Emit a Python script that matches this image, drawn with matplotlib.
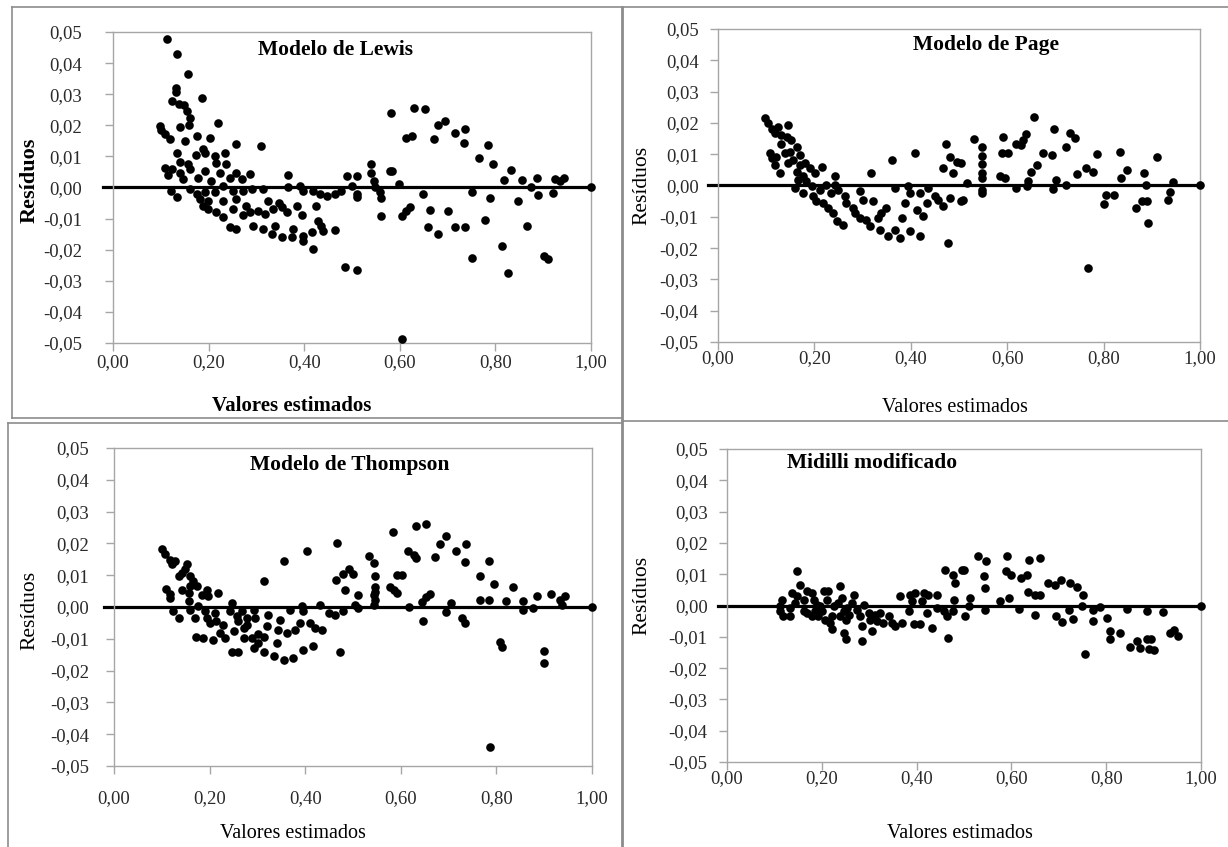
import matplotlib.pyplot as plt
import numpy as np
from matplotlib.lines import Line2D

plt.rcParams['font.family'] = ['Liberation Serif', 'DejaVu Serif']

# (valor estimado, resíduo)
lewis = np.array([
    (0.112, 0.0476), (0.133, 0.043), (0.157, 0.0366), (0.131, 0.032), (0.131, 0.0307), (0.186, 0.0287),
    (0.124, 0.0278), (0.138, 0.027), (0.148, 0.0264), (0.154, 0.0246), (0.161, 0.0222), (0.220, 0.0209),
    (0.159, 0.020), (0.098, 0.0198), (0.101, 0.0185), (0.108, 0.0171), (0.119, 0.0155), (0.141, 0.0196),
    (0.150, 0.015), (0.175, 0.0166), (0.203, 0.016), (0.258, 0.0139), (0.309, 0.0134), (0.189, 0.0123),
    (0.192, 0.011), (0.133, 0.0112), (0.173, 0.0104), (0.213, 0.0102), (0.234, 0.011), (0.141, 0.0082),
    (0.157, 0.0075), (0.108, 0.0064), (0.124, 0.0059), (0.140, 0.0048), (0.161, 0.0059), (0.192, 0.0053),
    (0.216, 0.008), (0.237, 0.0075), (0.115, 0.004), (0.147, 0.0027), (0.178, 0.0032), (0.206, 0.0021),
    (0.223, 0.0048), (0.258, 0.0046), (0.286, 0.0043), (0.269, 0.0027), (0.244, 0.0032), (0.367, 0.004),
    (0.122, -0.001), (0.133, -0.0029), (0.161, -0.0005), (0.175, -0.0021), (0.192, -0.0014), (0.213, -0.0016),
    (0.230, 0.0005), (0.251, -0.001), (0.272, -0.001), (0.290, -0.0005), (0.314, -0.0005), (0.367, 0.0),
    (0.391, 0.0005), (0.398, -0.001), (0.419, -0.001), (0.433, -0.002), (0.447, -0.0027), (0.464, -0.002),
    (0.478, -0.001), (0.489, 0.0037), (0.182, -0.0037), (0.199, -0.0043), (0.230, -0.0043), (0.258, -0.0037),
    (0.189, -0.0059), (0.199, -0.007), (0.216, -0.008), (0.230, -0.0096), (0.251, -0.007), (0.279, -0.0059),
    (0.325, -0.0043), (0.348, -0.005), (0.272, -0.009), (0.286, -0.008), (0.304, -0.0075), (0.318, -0.0086),
    (0.335, -0.007), (0.353, -0.0064), (0.363, -0.008), (0.385, -0.0059), (0.395, -0.009), (0.244, -0.0128),
    (0.258, -0.0134), (0.293, -0.0123), (0.313, -0.0134), (0.332, -0.015), (0.339, -0.0123), (0.353, -0.016),
    (0.374, -0.016), (0.377, -0.0134), (0.398, -0.0155), (0.398, -0.0171), (0.416, -0.0144), (0.429, -0.0107),
    (0.436, -0.0123), (0.440, -0.0139), (0.464, -0.0136), (0.419, -0.0198), (0.425, -0.0059), (0.485, -0.0257),
    (0.510, 0.0037), (0.499, 0.0005), (0.510, -0.002), (0.510, -0.0032), (0.510, -0.0264), (0.539, 0.0075),
    (0.539, 0.0048), (0.545, 0.0021), (0.548, 0.0), (0.559, -0.0016), (0.560, -0.0035), (0.560, -0.0093),
    (0.580, 0.0053), (0.583, 0.0053), (0.581, 0.024), (0.598, 0.0011), (0.604, -0.0091), (0.614, -0.0075),
    (0.621, -0.0064), (0.604, -0.0487), (0.614, 0.016), (0.625, 0.0166), (0.630, 0.0257), (0.653, 0.0253),
    (0.648, -0.002), (0.663, -0.0072), (0.660, -0.0126), (0.680, -0.0148), (0.671, 0.0155), (0.679, 0.020),
    (0.694, 0.0214), (0.701, -0.0075), (0.716, 0.0176), (0.737, 0.0189), (0.735, 0.0144), (0.716, -0.0128),
    (0.736, -0.0128), (0.750, -0.0014), (0.751, -0.0228), (0.765, 0.0096), (0.784, 0.0137), (0.794, 0.0077),
    (0.789, -0.0034), (0.779, -0.0105), (0.813, -0.0189), (0.826, -0.0275), (0.817, 0.0024), (0.833, 0.0057),
    (0.847, -0.0043), (0.856, 0.0024), (0.866, -0.0123), (0.875, 0.0002), (0.887, 0.0029), (0.889, -0.0025),
    (0.902, -0.0219), (0.909, -0.023), (0.920, -0.0019), (0.925, 0.0027), (0.936, 0.0021), (0.943, 0.0029),
    (1.0, 0.0),
])

page = np.array([
    (0.097, 0.0217), (0.104, 0.020), (0.111, 0.0182), (0.125, 0.0187), (0.145, 0.0193), (0.118, 0.0168),
    (0.131, 0.0161), (0.143, 0.0156), (0.152, 0.0145), (0.131, 0.0132), (0.163, 0.0124), (0.107, 0.0103),
    (0.111, 0.0087), (0.121, 0.0092), (0.138, 0.0103), (0.149, 0.0108), (0.170, 0.0097), (0.118, 0.0066),
    (0.128, 0.0039), (0.145, 0.0071), (0.156, 0.0081), (0.170, 0.0066), (0.180, 0.0071), (0.190, 0.0055),
    (0.201, 0.0039), (0.215, 0.006), (0.163, 0.0044), (0.176, 0.0029), (0.166, 0.0018), (0.183, 0.0013),
    (0.159, -0.0008), (0.176, -0.0024), (0.194, -0.0003), (0.197, -0.0035), (0.211, -0.0014), (0.225, 0.0002),
    (0.242, 0.0029), (0.242, 0.0002), (0.204, -0.0051), (0.218, -0.0056), (0.228, -0.0072), (0.235, -0.0024),
    (0.249, -0.0014), (0.239, -0.0088), (0.246, -0.0114), (0.260, -0.0125), (0.263, -0.0035), (0.266, -0.0056),
    (0.280, -0.0072), (0.284, -0.0088), (0.294, -0.0019), (0.294, -0.0104), (0.301, -0.0046), (0.308, -0.0109),
    (0.315, -0.013), (0.318, 0.0039), (0.322, -0.0051), (0.332, -0.0104), (0.336, -0.0141), (0.339, -0.0088),
    (0.349, -0.0072), (0.353, -0.0162), (0.360, 0.0081), (0.367, -0.0008), (0.367, -0.0141), (0.377, -0.0167),
    (0.381, -0.0104), (0.388, -0.0056), (0.394, -0.0003), (0.398, -0.0024), (0.398, -0.0146), (0.408, 0.0103),
    (0.412, -0.0077), (0.419, -0.0162), (0.419, -0.0024), (0.426, -0.0098), (0.433, -0.0056), (0.436, -0.0008),
    (0.450, -0.0035), (0.457, -0.0046), (0.467, -0.0067), (0.467, 0.0055), (0.473, 0.0134), (0.478, -0.0183),
    (0.482, 0.009), (0.488, 0.0039), (0.481, -0.004), (0.495, 0.0076), (0.505, 0.0071), (0.516, 0.0007),
    (0.509, -0.0046), (0.505, -0.0051), (0.531, 0.0147), (0.547, 0.0124), (0.547, 0.0094), (0.547, 0.0069),
    (0.547, 0.0039), (0.547, 0.0023), (0.547, -0.0014), (0.547, -0.0024), (0.585, 0.0029), (0.595, 0.0023),
    (0.592, 0.0156), (0.589, 0.0103), (0.602, 0.0103), (0.618, -0.0008), (0.619, 0.0132), (0.629, 0.0129),
    (0.633, 0.0145), (0.640, 0.0164), (0.641, -0.0003), (0.643, 0.0013), (0.650, 0.0044), (0.661, 0.0066),
    (0.656, 0.0219), (0.675, 0.0105), (0.692, 0.0097), (0.694, -0.0012), (0.702, 0.0018), (0.697, 0.0179),
    (0.722, 0.0124), (0.730, 0.0168), (0.740, 0.0153), (0.723, 0.0), (0.745, 0.0037), (0.763, 0.0055),
    (0.778, 0.0044), (0.768, -0.0262), (0.787, 0.010), (0.801, -0.0058), (0.806, -0.003), (0.822, -0.003),
    (0.833, 0.0108), (0.836, 0.0023), (0.849, 0.0048), (0.867, -0.0072), (0.879, -0.0051), (0.891, -0.0051),
    (0.884, 0.0039), (0.889, 0.0), (0.893, -0.012), (0.910, 0.0092), (0.933, -0.0046), (0.938, -0.0022),
    (0.943, 0.001), (1.0, 0.0),
])

thompson = np.array([
    (0.100, 0.0181), (0.107, 0.0168), (0.117, 0.0149), (0.128, 0.0144), (0.121, 0.0134), (0.152, 0.0134),
    (0.149, 0.0118), (0.135, 0.0097), (0.142, 0.0107), (0.159, 0.0097), (0.166, 0.0081), (0.173, 0.0065),
    (0.109, 0.0057), (0.117, 0.0042), (0.117, 0.0028), (0.142, 0.0055), (0.156, 0.0044), (0.159, 0.0065),
    (0.184, 0.0039), (0.197, 0.0034), (0.218, 0.0044), (0.194, 0.0055), (0.124, -0.0014), (0.135, -0.0035),
    (0.156, 0.0018), (0.159, -0.0008), (0.176, 0.0002), (0.170, -0.0035), (0.190, -0.0014), (0.194, -0.0035),
    (0.211, -0.0019), (0.213, -0.0045), (0.201, -0.0051), (0.229, -0.0056), (0.246, 0.0013), (0.243, -0.0014),
    (0.257, -0.0029), (0.268, -0.0014), (0.260, -0.0045), (0.278, -0.0035), (0.292, -0.0008), (0.295, -0.0035),
    (0.222, -0.0082), (0.232, -0.0098), (0.250, -0.0077), (0.271, -0.0066), (0.278, -0.0056), (0.172, -0.0093),
    (0.187, -0.0098), (0.207, -0.0103), (0.246, -0.014), (0.260, -0.014), (0.271, -0.0098), (0.288, -0.0098),
    (0.292, -0.0129), (0.302, -0.0084), (0.302, -0.0114), (0.313, -0.014), (0.313, -0.0093), (0.320, -0.0061),
    (0.323, -0.0024), (0.334, -0.0154), (0.341, -0.0114), (0.344, -0.0072), (0.348, -0.004), (0.355, -0.0166),
    (0.362, -0.0082), (0.368, -0.0008), (0.375, -0.0161), (0.379, -0.0072), (0.355, 0.0144), (0.313, 0.0081),
    (0.393, 0.0002), (0.389, -0.005), (0.396, -0.0014), (0.396, -0.0135), (0.403, 0.0176), (0.410, -0.005),
    (0.417, -0.0124), (0.421, -0.0066), (0.431, 0.0007), (0.435, -0.0072), (0.449, -0.0019), (0.463, -0.0024),
    (0.466, 0.0202), (0.465, 0.0086), (0.473, -0.014), (0.480, 0.0105), (0.484, 0.0055), (0.480, -0.0014),
    (0.491, 0.0118), (0.501, 0.0104), (0.511, 0.0038), (0.504, 0.0006), (0.511, -0.0004), (0.533, 0.0159),
    (0.543, 0.0138), (0.546, 0.0096), (0.546, 0.0064), (0.546, 0.0048), (0.543, 0.0038), (0.546, 0.0022),
    (0.543, 0.0006), (0.578, 0.0064), (0.585, 0.0054), (0.593, 0.0043), (0.584, 0.0235), (0.592, 0.0101),
    (0.602, 0.0101), (0.618, -0.0001), (0.616, 0.0175), (0.627, 0.0164), (0.632, 0.0154), (0.631, 0.0254),
    (0.653, 0.0261), (0.644, 0.0017), (0.653, 0.0031), (0.661, 0.0041), (0.646, -0.0043), (0.671, 0.0156),
    (0.681, 0.0198), (0.695, 0.0224), (0.695, -0.0015), (0.705, 0.0014), (0.716, 0.0175), (0.737, 0.0198),
    (0.735, 0.0143), (0.728, -0.0036), (0.734, -0.0049), (0.766, 0.0096), (0.766, 0.0022), (0.785, 0.0022),
    (0.785, 0.0145), (0.794, 0.0073), (0.787, -0.0441), (0.808, -0.0109), (0.812, -0.0125), (0.820, 0.002),
    (0.835, 0.0064), (0.856, 0.002), (0.856, -0.0009), (0.877, -0.0004), (0.885, 0.0035), (0.900, -0.0138),
    (0.900, -0.0176), (0.914, 0.0041), (0.934, 0.0022), (0.943, 0.0035), (0.937, 0.0006), (1.0, 0.0),
])

midilli = np.array([
    (0.148, 0.0111), (0.153, 0.0067), (0.116, 0.0017), (0.112, 0.0), (0.112, -0.0018), (0.119, -0.0034),
    (0.133, -0.0034), (0.133, -0.0007), (0.137, 0.004), (0.148, 0.003), (0.144, 0.0008), (0.162, 0.0019),
    (0.169, 0.0046), (0.179, 0.004), (0.162, -0.0018), (0.169, -0.0023), (0.183, 0.0019), (0.190, 0.0003),
    (0.186, -0.0018), (0.197, -0.0002), (0.179, -0.0034), (0.193, -0.0034), (0.200, -0.0018), (0.204, 0.0046),
    (0.214, 0.0046), (0.211, 0.0019), (0.207, -0.0045), (0.218, -0.0055), (0.221, -0.0076), (0.221, -0.0034),
    (0.225, -0.0002), (0.235, 0.0008), (0.239, 0.0062), (0.242, 0.0024), (0.246, -0.0018), (0.239, -0.0034),
    (0.253, -0.0007), (0.257, -0.0029), (0.250, -0.0045), (0.267, 0.0035), (0.264, 0.0008), (0.274, -0.0013),
    (0.246, -0.0087), (0.250, -0.0108), (0.281, -0.0034), (0.288, 0.0003), (0.285, -0.0066), (0.285, -0.0114),
    (0.299, -0.0023), (0.302, -0.0045), (0.306, -0.0082), (0.313, -0.0029), (0.316, -0.005), (0.323, -0.0023),
    (0.330, -0.0055), (0.341, -0.0034), (0.348, -0.0055), (0.355, -0.0066), (0.364, 0.003), (0.369, -0.0055),
    (0.383, -0.0018), (0.387, 0.0035), (0.390, 0.0014), (0.394, -0.006), (0.408, -0.006), (0.397, 0.004),
    (0.411, 0.0014), (0.415, 0.004), (0.422, -0.0023), (0.425, 0.0035), (0.432, -0.0071), (0.443, 0.0035),
    (0.443, -0.0007), (0.457, -0.0018), (0.464, -0.0034), (0.467, -0.0103), (0.460, 0.0115), (0.476, 0.0096),
    (0.481, 0.0072), (0.478, 0.0019), (0.476, -0.0018), (0.502, -0.0032), (0.495, 0.0115), (0.499, 0.0113),
    (0.512, 0.0024), (0.510, 0.0), (0.529, 0.0157), (0.547, 0.0141), (0.543, 0.0093), (0.545, 0.0056),
    (0.545, -0.0013), (0.576, 0.0014), (0.590, 0.0157), (0.588, 0.0109), (0.599, 0.0099), (0.595, 0.0024),
    (0.616, -0.0011), (0.620, 0.0088), (0.633, 0.0099), (0.638, 0.0146), (0.661, 0.0152), (0.636, 0.0042),
    (0.650, 0.0035), (0.661, 0.0035), (0.649, -0.0029), (0.678, 0.0072), (0.692, 0.0067), (0.704, 0.0083),
    (0.724, 0.0072), (0.739, 0.0059), (0.751, 0.0035), (0.748, -0.0002), (0.694, -0.0034), (0.706, -0.0053),
    (0.722, -0.0013), (0.729, -0.0042), (0.755, -0.0156), (0.773, -0.0013), (0.787, -0.0005), (0.773, -0.0048),
    (0.801, -0.0039), (0.807, -0.0082), (0.809, -0.0108), (0.829, -0.0089), (0.843, -0.0011), (0.851, -0.0132),
    (0.865, -0.0114), (0.872, -0.0135), (0.886, -0.0108), (0.894, -0.0106), (0.891, -0.014), (0.900, -0.0143),
    (0.887, -0.0018), (0.919, -0.0021), (0.935, -0.0089), (0.943, -0.0079), (0.952, -0.0096), (1.0, 0.0),
])

titles = ["Modelo de Lewis", "Modelo de Page", "Modelo de Thompson", "Midilli modificado"]
x_ticks = [0.0, 0.2, 0.4, 0.6, 0.8, 1.0]
x_tick_labels = ["0,00", "0,20", "0,40", "0,60", "0,80", "1,00"]
y_ticks = [0.05, 0.04, 0.03, 0.02, 0.01, 0.0, -0.01, -0.02, -0.03, -0.04, -0.05]
y_tick_labels = ["0,05", "0,04", "0,03", "0,02", "0,01", "0,00",
                 "-0,01", "-0,02", "-0,03", "-0,04", "-0,05"]
x_label = "Valores estimados"
y_label = "Resíduos"

W, H = 1228, 847
GRAY = '#a6a6a6'
fig = plt.figure(figsize=(W / 100, H / 100), dpi=100)

#? Panel borders (pixel coords, y down)
def fig_line(x0, y0, x1, y1, lw=1.2, color='#8c8c8c'):
    fig.add_artist(Line2D([x0 / W, x1 / W], [1 - y0 / H, 1 - y1 / H],
                          transform=fig.transFigure, color=color, lw=lw))

fig_line(12, 7, 1228, 7)
fig_line(12, 7, 12, 418)
fig_line(12, 418, 622, 418)
fig_line(8, 423, 622, 423)
fig_line(8, 423, 8, 847)
fig_line(622, 421, 1228, 421)
fig_line(622, 7, 622, 847, lw=2.0)

# box = plot area (left, top, right, bottom) in pixels
panels = [
    dict(data=lewis, title=titles[0], box=(113, 32, 591, 343), tpos=(0.466, 0.943), bold=True,
         ypad=16, xpad=2, ylab=(30, 180), xlab=(292, 406)),
    dict(data=page, title=titles[1], box=(718, 29, 1200, 342), tpos=(0.556, 0.950), bold=False,
         ypad=8, xpad=0, ylab=(642, 185), xlab=(955, 408)),
    dict(data=thompson, title=titles[2], box=(114, 448, 592, 766), tpos=(0.494, 0.947), bold=False,
         ypad=12, xpad=11, ylab=(30, 610), xlab=(293, 833)),
    dict(data=midilli, title=titles[3], box=(727, 449, 1201, 762), tpos=(0.306, 0.956), bold=False,
         ypad=8, xpad=0, ylab=(642, 595), xlab=(960, 833)),
]

for p in panels:
    l, t, r, b = p['box']
    ax = fig.add_axes([l / W, 1 - b / H, (r - l) / W, (b - t) / H])
    pts = p['data']
    ax.plot([-0.02, 1.0], [0, 0], color='black', lw=2.3, clip_on=False, zorder=2)
    ax.plot(pts[:, 0], pts[:, 1], 'o', color='black', ms=6.2, mew=0, clip_on=False, zorder=3)
    ax.set_xlim(0, 1)
    ax.set_ylim(-0.05, 0.05)
    ax.set_xticks(x_ticks, x_tick_labels)
    ax.set_yticks(y_ticks, y_tick_labels)
    for s in ax.spines.values():
        s.set_color(GRAY)
        s.set_linewidth(1.0)
    ax.tick_params(direction='out', length=6, width=1.0, color=GRAY, labelsize=13.5, labelcolor='#2a2a2a')
    ax.tick_params(axis='y', pad=p['ypad'])
    ax.tick_params(axis='x', pad=p['xpad'])
    ax.text(p['tpos'][0], p['tpos'][1], p['title'], transform=ax.transAxes, ha='center', va='center',
            fontsize=15.5, fontweight='bold')
    weight = 'bold' if p['bold'] else 'normal'
    fig.text(p['ylab'][0] / W, 1 - p['ylab'][1] / H, y_label, rotation=90, ha='center', va='center',
             fontsize=16 if p['bold'] else 15.5, fontweight=weight)
    fig.text(p['xlab'][0] / W, 1 - p['xlab'][1] / H, x_label, ha='center', va='center',
             fontsize=15 if p['bold'] else 14.5, fontweight=weight)

plt.savefig("out.png", dpi=100)
